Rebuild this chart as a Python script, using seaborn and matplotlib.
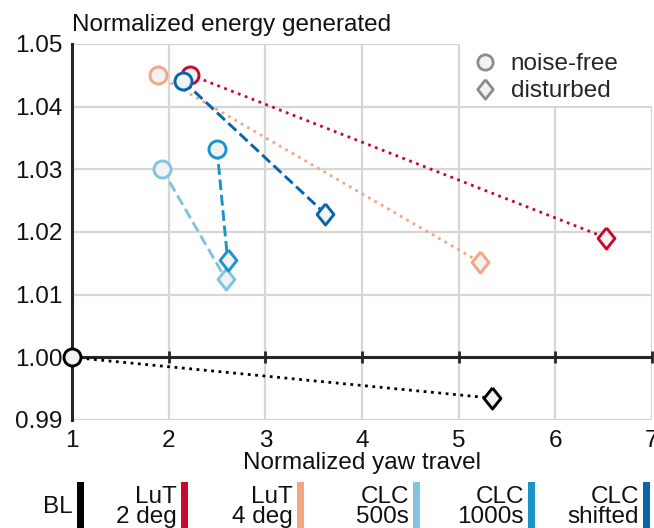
import numpy as np
import pandas as pd
import seaborn as sns
import matplotlib
matplotlib.use("Agg")
import matplotlib.pyplot as plt
from matplotlib.patches import Rectangle
from matplotlib.lines import Line2D

# Controllers and their two operating points (noise-free, disturbed)
methods = ["BL", "LuT\n2 deg", "LuT\n4 deg", "CLC\n500s", "CLC\n1000s", "CLC\nshifted"]
colors = ["#000000", "#c8082c", "#f4a582", "#80c4e0", "#1b95c9", "#0565ad"]
line_styles = [":", ":", ":", "--", "--", "--"]

travel_noise_free = [1.00, 2.22, 1.89, 1.93, 2.50, 2.15]
energy_noise_free = [1.0000, 1.0451, 1.0450, 1.0301, 1.0333, 1.0441]
travel_disturbed = [5.34, 6.52, 5.22, 2.59, 2.61, 3.62]
energy_disturbed = [0.9935, 1.0191, 1.0152, 1.0125, 1.0155, 1.0229]

x_ticks = [1, 2, 3, 4, 5, 6, 7]
y_ticks = [0.99, 1.00, 1.01, 1.02, 1.03, 1.04, 1.05]

rows = []
for i, m in enumerate(methods):
    rows.append((m, "noise-free", travel_noise_free[i], energy_noise_free[i]))
    rows.append((m, "disturbed", travel_disturbed[i], energy_disturbed[i]))
df = pd.DataFrame(rows, columns=["method", "condition", "travel", "energy"])

sns.set_theme(style="white")
plt.rcParams["font.family"] = ["Liberation Sans", "DejaVu Sans"]
FS = 17.5
plt.rcParams["font.size"] = FS

fig = plt.figure(figsize=(6.54, 5.28), dpi=100)
ax = fig.add_axes([72 / 654, 1 - 420 / 528, 580 / 654, 376 / 528])

dark = "#262626"
fill = "#f2f2f2"
diamond = [(0, 1), (0.8, 0), (0, -1), (-0.8, 0), (0, 1)]
marker_size = {"noise-free": 150, "disturbed": 230}
marker_shape = {"noise-free": "o", "disturbed": diamond}

for m, c, ls in zip(methods, colors, line_styles):
    sub = df[df["method"] == m]
    sns.lineplot(data=sub, x="travel", y="energy", sort=False, ax=ax,
                 color=c, lw=2.1 if ls == "--" else 2.0, linestyle=ls,
                 legend=False, zorder=3)
    for cond in ["noise-free", "disturbed"]:
        pts = sub[sub["condition"] == cond]
        sns.scatterplot(data=pts, x="travel", y="energy",
                        marker=marker_shape[cond], s=marker_size[cond],
                        color=fill, edgecolor=c, linewidth=2.1,
                        ax=ax, legend=False, zorder=5, clip_on=False)

ax.set_xlim(x_ticks[0], x_ticks[-1])
ax.set_ylim(y_ticks[0], y_ticks[-1])
ax.set_xticks(x_ticks)
ax.set_yticks(y_ticks)
ax.set_yticklabels([f"{v:.2f}" for v in y_ticks])
ax.grid(True, color="#d6d6d6", lw=1.6, zorder=0)
ax.set_axisbelow(True)
for side in ["top", "right", "bottom"]:
    ax.spines[side].set_visible(False)
ax.spines["left"].set_color(dark)
ax.spines["left"].set_linewidth(2.2)
ax.tick_params(axis="y", direction="in", length=6, width=2, color=dark,
               labelsize=FS, pad=7, labelcolor="#111111")
ax.tick_params(axis="x", length=0, labelsize=FS, pad=7, labelcolor="#111111")

# horizontal reference axis at unit energy with crossing ticks
ax.axhline(1.0, color=dark, lw=2.2, zorder=2)
ax.plot(x_ticks[1:], [1.0] * (len(x_ticks) - 1), ls="none", marker="|",
        ms=9, mew=2, color=dark, zorder=2, clip_on=False)

ax.set_xlabel("Normalized yaw travel", fontsize=FS, labelpad=0, color="#111111")
ax.set_ylabel("")
ax.set_title("Normalized energy generated", loc="left", fontsize=FS,
             pad=9, color="#111111")

# white backing behind the marker-shape legend
ax.add_patch(Rectangle((388 / 580, 314 / 376), 1 - 388 / 580, 62 / 376,
                       transform=ax.transAxes, facecolor="white",
                       edgecolor="none", zorder=1, clip_on=False))

# marker-shape legend
handles = [
    Line2D([], [], ls="none", marker="o", ms=11, mfc=fill, mec="#8c8c8c", mew=2),
    Line2D([], [], ls="none", marker=diamond, ms=14, mfc=fill, mec="#8c8c8c", mew=2),
]
leg = ax.legend(handles, ["noise-free", "disturbed"], loc="upper right",
                bbox_to_anchor=(0.955, 0.995), frameon=False, fontsize=FS,
                handlelength=1.0, handletextpad=0.55, labelspacing=0.2,
                borderpad=0.3, borderaxespad=0.0)

# colour key for the controllers along the bottom
bar_left_px = [77, 181, 297, 413, 528, 643]
W, H = 654, 528
for m, c, bx in zip(methods, colors, bar_left_px):
    fig.add_artist(Rectangle((bx / W, 0), 7 / W, (528 - 482) / H,
                             transform=fig.transFigure, color=c, lw=0))
    fig.text((bx - 4) / W, 1 - 507 / H, m, ha="right", va="center",
             fontsize=FS, linespacing=0.92, color="#111111")

fig.savefig("out.png", dpi=100)
